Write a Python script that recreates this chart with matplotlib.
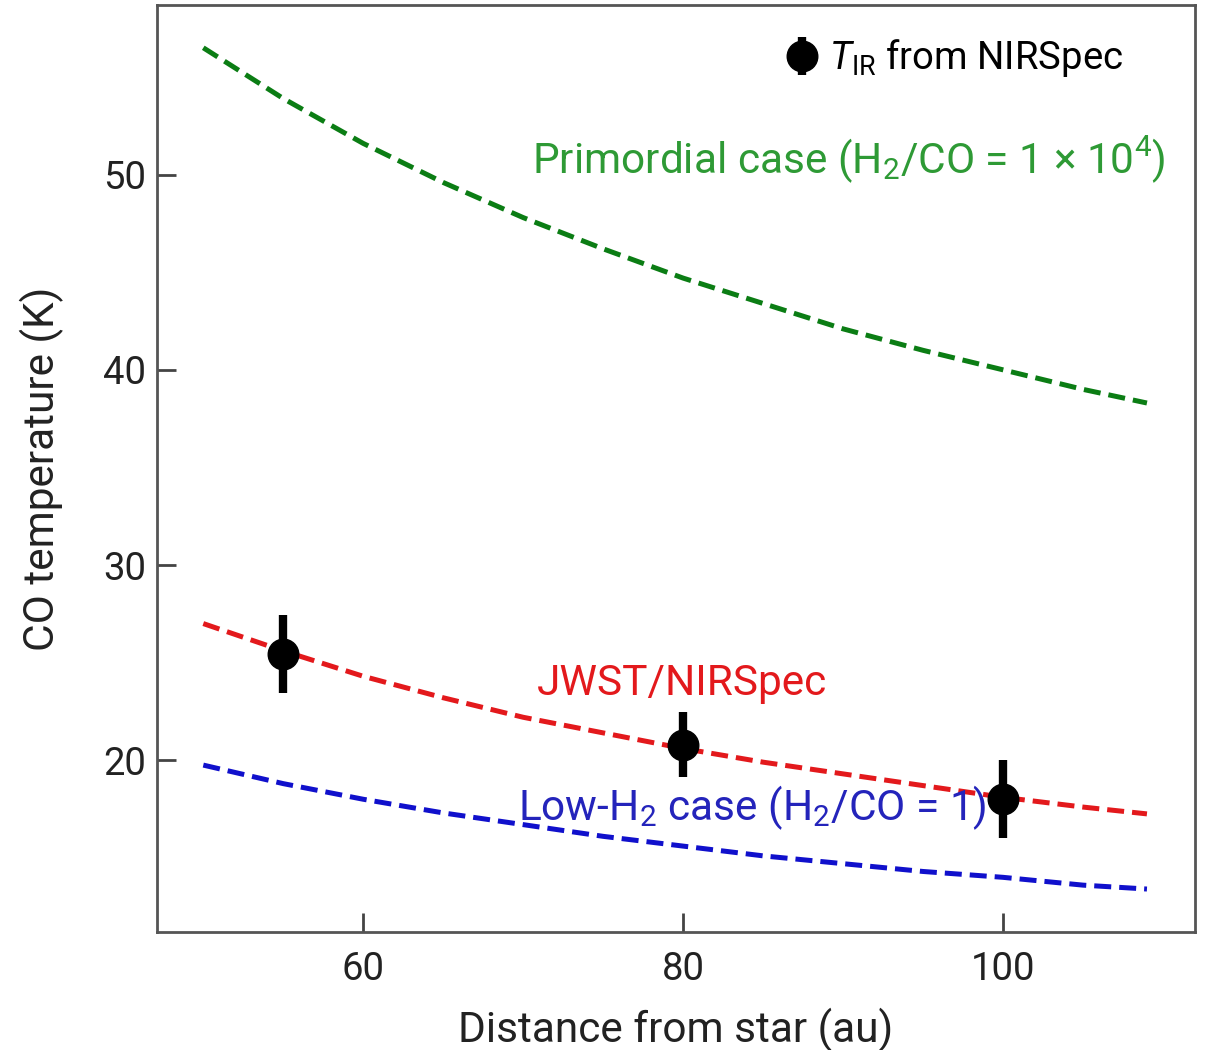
import matplotlib
matplotlib.use('Agg')
import matplotlib.pyplot as plt
import numpy as np

plt.rcParams['font.family'] = ['Roboto', 'DejaVu Sans']
plt.rcParams['mathtext.fontset'] = 'custom'
plt.rcParams['mathtext.rm'] = 'Roboto'
plt.rcParams['mathtext.it'] = 'Roboto:italic'

# model curves (distance in au, temperature in K)
dist = [50, 55, 60, 65, 70, 75, 80, 85, 90, 95, 100, 105, 109]
T_primordial = [56.5, 53.9, 51.6, 49.6, 47.8, 46.2, 44.7, 43.4, 42.1, 41.0, 40.0, 39.0, 38.3]
T_jwst = [27.0, 25.6, 24.3, 23.2, 22.2, 21.4, 20.6, 19.9, 19.3, 18.7, 18.1, 17.6, 17.25]
T_lowh2 = [19.75, 18.8, 18.0, 17.3, 16.7, 16.1, 15.6, 15.1, 14.7, 14.3, 14.0, 13.6, 13.4]

# NIRSpec measurements
obs_dist = [55, 80, 100]
obs_T = [25.45, 20.8, 18.0]
obs_err = [2.0, 1.65, 2.0]

fig = plt.figure(figsize=(12.07, 10.5), dpi=100)
ax = fig.add_axes([0.130, 0.1124, 0.860, 0.883])

dash = [3.4, 1.6]
ax.plot(dist, T_primordial, color='#0b7d14', lw=3.6, dashes=dash)
ax.plot(dist, T_jwst, color='#e3191c', lw=3.6, dashes=dash)
ax.plot(dist, T_lowh2, color='#1010cc', lw=3.6, dashes=dash)

eb = ax.errorbar(obs_dist, obs_T, yerr=obs_err, fmt='o', color='black',
                 ms=22, elinewidth=6, capsize=0, zorder=5,
                 label=r'$T_{\mathrm{IR}}$ from NIRSpec')

ax.text(0.972, 0.833, r'Primordial case (H$_2$/CO = 1 × 10$^4$)', transform=ax.transAxes,
        color='#2e9a35', fontsize=30.5, ha='right', va='center')
ax.text(0.366, 0.268, 'JWST/NIRSpec', transform=ax.transAxes,
        color='#e3191c', fontsize=30.5, ha='left', va='center')
ax.text(0.348, 0.134, r'Low-H$_2$ case (H$_2$/CO = 1)', transform=ax.transAxes,
        color='#2424bb', fontsize=30.5, ha='left', va='center')

leg = ax.legend(handles=[eb], loc='upper right', frameon=False, fontsize=27.5,
                handlelength=0.6, handletextpad=0.4, borderaxespad=0.4,
                bbox_to_anchor=(0.96, 0.998))

ax.set_xlim(47.1, 112.0)
ax.set_ylim(11.2, 58.7)
ax.set_xticks([60, 80, 100])
ax.set_yticks([20, 30, 40, 50])
ax.tick_params(direction='in', length=14, width=2, color='#444444',
               labelsize=27.5, labelcolor='#222222')
ax.tick_params(axis='y', pad=8)
ax.tick_params(axis='x', pad=14)
for s in ax.spines.values():
    s.set_linewidth(2)
    s.set_color('#555555')

ax.set_xlabel('Distance from star (au)', fontsize=30.5, color='#222222', labelpad=14)
ax.set_ylabel('CO temperature (K)', fontsize=30.5, color='#222222', labelpad=28)

fig.savefig('out.png', dpi=100)
